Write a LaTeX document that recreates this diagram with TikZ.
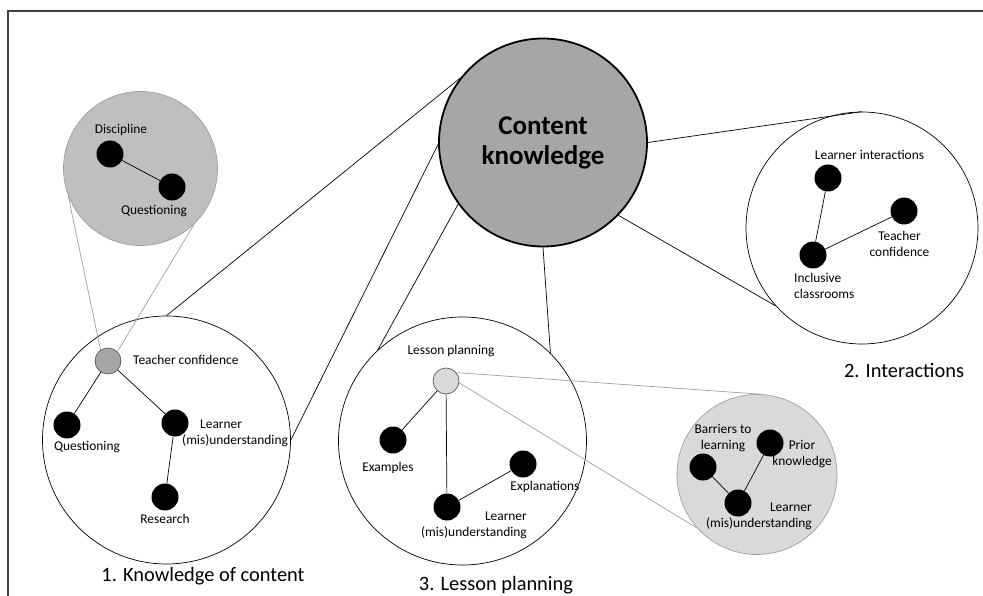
\documentclass[tikz,border=0pt]{standalone}
\usepackage{fontspec}
\setmainfont{Carlito}
\definecolor{ckgray}{HTML}{A6A6A6}
\definecolor{midgray}{HTML}{BFBFBF}
\definecolor{ltgray}{HTML}{D9D9D9}
\definecolor{zoomline}{HTML}{A0A0A0}
\definecolor{framec}{HTML}{404040}
\begin{document}
\begin{tikzpicture}[x=1pt,y=-1pt,
  dot/.style={circle,fill=black,minimum size=27pt,inner sep=0pt},
  gdot/.style={circle,draw=black!65,line width=0.7pt,minimum size=26pt,inner sep=0pt},
  group/.style={circle,draw=black,line width=0.7pt,inner sep=0pt},
  zoomc/.style={circle,draw=zoomline,line width=0.7pt,inner sep=0pt},
  lbl/.style={font=\fontsize{13.4}{16}\selectfont,inner sep=0pt},
  ttl/.style={font=\fontsize{20.4}{24}\selectfont,inner sep=0pt},
  link/.style={draw=black,line width=0.7pt},
  zlink/.style={draw=zoomline,line width=0.7pt}]
\useasboundingbox (0,0) rectangle (983,596);
% frame
\draw[framec,line width=1.3pt] (8,600) -- (8,11) -- (990,11);

% group circles
\node[group,minimum size=248pt] (c1) at (166.5,440) {};
\node[group,minimum size=248pt] (c3) at (462.5,441) {};
\node[group,minimum size=232pt] (c2) at (862,228) {};
\node[zoomc,fill=midgray,minimum size=154pt] (zd) at (140.5,168.5) {};
\node[zoomc,fill=ltgray,minimum size=160pt] (zb) at (757,474.5) {};

% central node
\node[circle,draw=black,line width=1.8pt,fill=ckgray,minimum size=208pt,inner sep=0pt,
      font=\fontsize{27}{30}\selectfont\bfseries,align=center] (ck) at (543,142.5) {Content\\knowledge};

% connectors from the central node
\draw[link] (ck.142) -- (c1.north);
\draw[link] (ck.181) -- (c1.east);
\draw[link] (ck.216) -- (c3.133);
\draw[link] (ck.south) -- (c3.45);
\draw[link] (ck.east) -- (c2.north);
\draw[link] (ck.-44) -- (c2.222);

% zoom circle: discipline
\node[dot] (disc) at (110,154) {};
\node[dot] (dq) at (172,187) {};
\draw[link] (disc) -- (dq);
\node[lbl] (discl) at (121,130) {Discipline};
\node[lbl] (dql) at (154,211) {Questioning};

% group 1
\node[gdot,fill=ckgray] (tc1) at (108,361) {};
\node[dot] (q1) at (67,425) {};
\node[dot] (lm1) at (175,423) {};
\node[dot] (res1) at (165,497) {};
\draw[link] (tc1) -- (q1);
\draw[link] (tc1) -- (lm1);
\draw[link] (lm1) -- (res1);
\node[lbl,anchor=west] (tc1l) at (133,360) {Teacher confidence};
\node[lbl] (q1l) at (87,447) {Questioning};
\node[lbl,anchor=west,align=left] (lm1l) at (182,433) {\hspace*{18pt}Learner\\(mis)understanding};
\node[lbl] (res1l) at (165,519) {Research};
\node[ttl] (t1) at (203,576) {1. Knowledge of content};

% zoom lines discipline -> teacher confidence
\draw[zlink] (zd.201) -- (tc1.124);
\draw[zlink] (zd.-46) -- (tc1.45);

% group 2
\node[dot] (li) at (828,178) {};
\node[dot] (tc2) at (904,211) {};
\node[dot] (ic) at (813,255) {};
\draw[link] (li) -- (ic);
\draw[link] (ic) -- (tc2);
\node[lbl] (lil) at (869.5,155) {Learner interactions};
\node[lbl,align=center] (tc2l) at (899.5,244) {Teacher\\confidence};
\node[lbl,anchor=west,align=left] (icl) at (794,286) {Inclusive\\classrooms};
\node[ttl] (t2) at (904,371) {2. Interactions};

% group 3
\node[gdot,fill=ltgray] (lp) at (446,381) {};
\node[dot] (ex) at (393,440) {};
\node[dot] (lm3) at (447,507) {};
\node[dot] (expl) at (523,464) {};
\draw[link] (lp) -- (ex);
\draw[link] (lp) -- (lm3);
\draw[link] (lm3) -- (expl);
\node[lbl] (lpl) at (451,351) {Lesson planning};
\node[lbl] (exl) at (388,468) {Examples};
\node[lbl] (expll) at (545,487) {Explanations};
\node[lbl,anchor=east,align=right] (lm3l) at (527,525) {Learner\\(mis)understanding};
\node[ttl] (t3) at (496,585) {3. Lesson planning};

% zoom lines lesson planning -> barrier circle
\draw[zlink] (lp.39) -- (zb.86);
\draw[zlink] (lp.-8) -- (zb.222);

% zoom circle: barriers
\node[dot] (bar) at (703,467) {};
\node[dot] (pk) at (770,443) {};
\node[dot] (lm4) at (738,503) {};
\draw[link] (bar) -- (lm4);
\draw[link] (lm4) -- (pk);
\node[lbl,align=center] (barl) at (723,438) {Barriers to\\learning};
\node[lbl,align=center] (pkl) at (802,454) {Prior\\knowledge};
\node[lbl,anchor=east,align=right] (lm4l) at (812,516.5) {Learner\\(mis)understanding};
\end{tikzpicture}
\end{document}
